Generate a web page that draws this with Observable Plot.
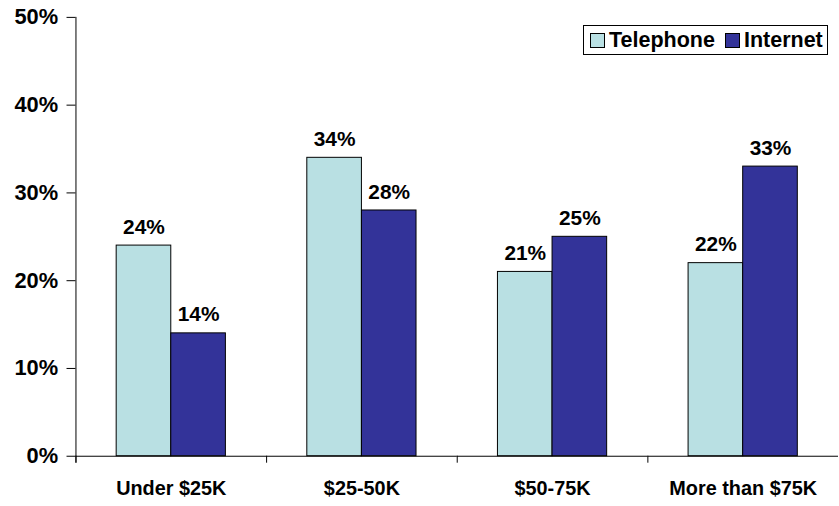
<!DOCTYPE html>
<html>
<head>
<meta charset="utf-8">
<script src="https://cdn.jsdelivr.net/npm/d3@7"></script>
<script src="https://cdn.jsdelivr.net/npm/@observablehq/plot@0.6"></script>
<style>
  html, body { margin: 0; padding: 0; background: #fff; overflow: hidden; }
  #wrap { position: relative; width: 839px; height: 506px; overflow: hidden; font-family: "Liberation Sans", Arial, sans-serif; }
  #legend { position: absolute; left: 583px; top: 25px; width: 243px; height: 28px; border: 1px solid #000; background: #fff;
    display: flex; align-items: center; font-weight: bold; font-size: 21.5px; color: #000; box-sizing: content-box; }
  .sw { display: inline-block; width: 13px; height: 13px; border: 1px solid #000; margin-right: 4px; }
  .item { display: flex; align-items: center; }
</style>
</head>
<body>
<div id="wrap">
  <div id="chart"></div>
  <div id="legend"></div>
</div>
<script>
const categories = ["Under $25K", "$25-50K", "$50-75K", "More than $75K"];
const series = ["Telephone", "Internet"];
const telephone = [24, 34, 21, 22];
const internet = [14, 28, 25, 33];
const yTicks = [0, 10, 20, 30, 40, 50];
const colors = ["#b9e0e3", "#333399"];

const data = categories.flatMap((c, i) => [
  {category: c, series: "Telephone", value: telephone[i]},
  {category: c, series: "Internet", value: internet[i]}
]);

const chart = Plot.plot({
  width: 845,
  height: 506,
  marginLeft: 76,
  marginRight: 1,
  marginTop: 17,
  marginBottom: 47,
  style: {fontFamily: '"Liberation Sans", Arial, sans-serif', color: "#000", background: "#fff", overflow: "visible"},
  fx: {domain: categories, padding: 0, label: null},
  x: {domain: series, paddingInner: 0, paddingOuter: 0.745, axis: null},
  y: {domain: [0, 50], axis: null},
  color: {domain: series, range: colors},
  marks: [
    Plot.barY(data, {fx: "category", x: "series", y: "value", fill: "series", stroke: "#000", strokeWidth: 1}),
    Plot.text(data, {fx: "category", x: "series", y: "value", text: d => d.value + "%", lineAnchor: "bottom", dy: -12, fontSize: 21, fontWeight: "bold"}),
    Plot.ruleY([0], {stroke: "#000"}),
    Plot.frame({anchor: "left", facetAnchor: "left", insetBottom: -6, stroke: "#000"}),
    Plot.frame({anchor: "left", insetTop: 442, insetBottom: -6, stroke: "#000"}),
    Plot.axisY({ticks: yTicks, tickFormat: d => d + "%", tickSize: 9, tickPadding: 9, fontSize: 22, fontWeight: "bold", stroke: "#000", label: null}),
    Plot.axisFx({anchor: "bottom", tickSize: 0, tickPadding: 25, fontSize: 20, fontWeight: "bold", label: null})
  ]
});
document.getElementById("chart").appendChild(chart);

const legend = document.getElementById("legend");
series.forEach((s, i) => {
  const item = document.createElement("span");
  item.className = "item";
  item.style.marginLeft = i === 0 ? "6px" : "10px";
  const sw = document.createElement("span");
  sw.className = "sw";
  sw.style.background = colors[i];
  item.appendChild(sw);
  item.appendChild(document.createTextNode(s));
  legend.appendChild(item);
});
</script>
</body>
</html>
